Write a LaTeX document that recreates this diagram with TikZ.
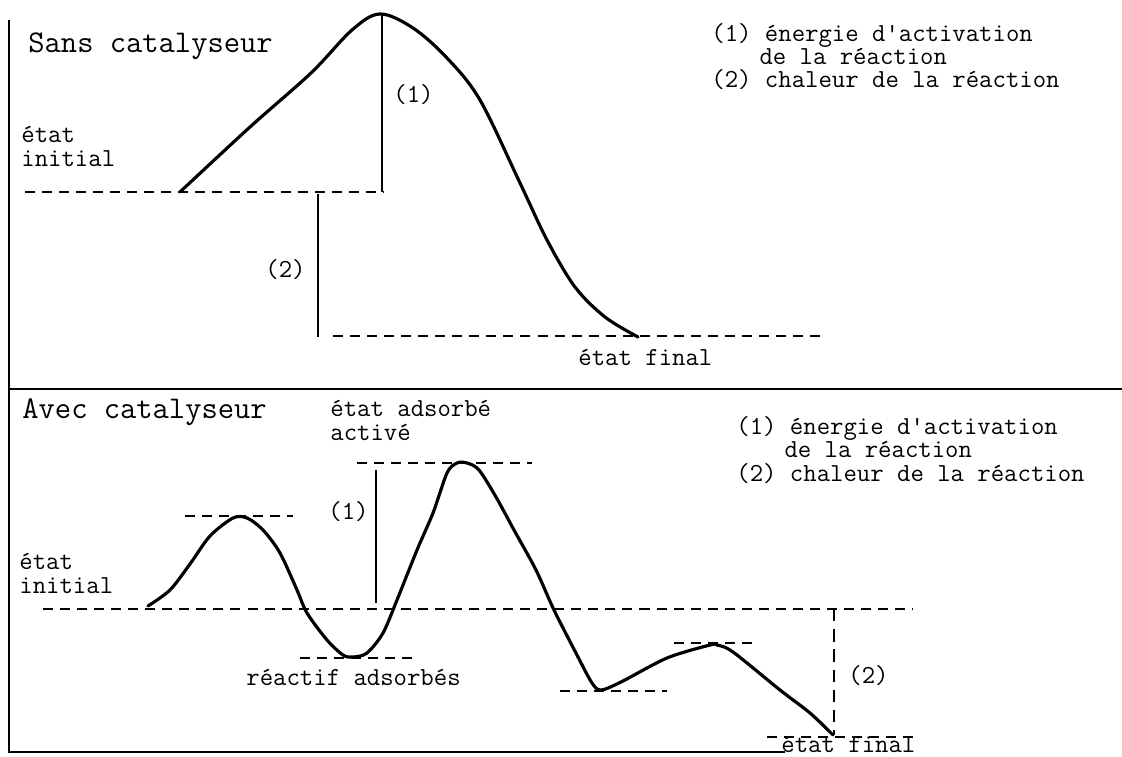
\documentclass[tikz,border=0pt]{standalone}
\begin{document}
\begin{tikzpicture}[x=0.02cm,y=-0.02cm,line width=1.6pt,
  txt/.style={font=\ttfamily\fontsize{14.8}{13.1}\selectfont,inner sep=0pt,anchor=base west,align=left},
  titre/.style={font=\ttfamily\fontsize{18}{20}\selectfont,inner sep=0pt,anchor=base west},
  niveau/.style={dash pattern=on 5.7pt off 4pt},
  courbe/.style={line width=1.8pt,line join=round,line cap=round}]
  \useasboundingbox (0,0) rectangle (1122,757);
  % frames
  \draw (9,20) -- (9,752) -- (785,752);
  \draw (9,389) -- (1122,389);
  % without catalyst
  \node[titre] (sans) at (27,53) {Sans catalyseur};
  \draw[courbe] plot[smooth,tension=0.55] coordinates {(180,192) (250,127) (311,73) (352,30)
    (380,14) (413,28) (447,58) (480,100) (520,183) (547,240) (575,287) (605,317) (638,337)};
  \draw[niveau] (25,192) -- (383,192);
  \draw[niveau] (333,336) -- (820,336);
  \draw (382,14) -- (382,192);
  \draw (318,194) -- (318,337);
  \node[txt] (ea1) at (392,103) {(1)};
  \node[txt] (dh1) at (264,277) {(2)};
  \node[txt] (ini1) at (20,166) {état\\initial};
  \node[txt] (fin1) at (577,365) {état final};
  \node[txt] (leg1) at (710,88) {(1) énergie d\textquotesingle activation\\
    \hspace*{1.85em}de la réaction\\(2) chaleur de la réaction};
  % with catalyst
  \node[titre] (avec) at (21,418) {Avec catalyseur};
  \draw[courbe] plot[smooth,tension=0.5] coordinates {(148,606) (170,590) (190,564)
    (210,536) (233,518) (247,518) (263,530) (280,553) (297,590) (307,613) (327,640) (343,655)
    (353,657) (367,653) (383,633) (397,600) (417,550) (433,513) (447,473) (457,463) (467,463)
    (479,470) (496,497) (514,530) (536,570) (554,610) (578,657) (592,683) (601,690) (621,682)
    (667,658) (710,645) (717,645) (733,652) (780,690) (810,713) (833,735)};
  \draw[niveau] (43,609) -- (913,609);
  \draw[niveau] (185,516) -- (293,516);
  \draw[niveau] (300,658) -- (415,658);
  \draw[niveau] (357,463) -- (532,463);
  \draw[niveau] (560,691) -- (667,691);
  \draw[niveau] (674,643) -- (756,643);
  \draw[niveau] (767,737) -- (913,737);
  \draw (376,470) -- (376,603);
  \draw[dash pattern=on 7pt off 4.5pt] (834,609) -- (834,735);
  \node[txt] (ea2) at (327,519) {(1)};
  \node[txt] (dh2) at (847,683) {(2)};
  \node[txt] (ini2) at (18,593) {état\\initial};
  \node[txt] (act) at (329,440) {état adsorbé\\activé};
  \node[txt] (ads) at (245,685) {réactif adsorbés};
  \node[txt] (fin2) at (780,752) {état final};
  \node[txt] (leg2) at (735,481) {(1) énergie d\textquotesingle activation\\
    \hspace*{1.85em}de la réaction\\(2) chaleur de la réaction};
\end{tikzpicture}
\end{document}
